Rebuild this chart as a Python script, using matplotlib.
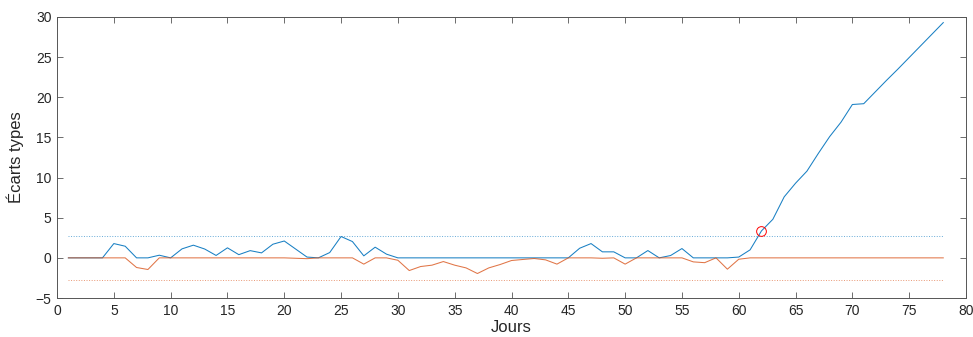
import matplotlib.pyplot as plt
import numpy as np

# jours et sommes cumulées (écarts types)
jours = np.arange(1, 79)
cusum_haut = [0, 0, 0, 0, 1.78, 1.45, 0, 0, 0.33, 0,
              1.12, 1.58, 1.1, 0.3, 1.25, 0.4, 0.9, 0.62, 1.7, 2.1,
              1.1, 0.1, 0, 0.66, 2.66, 2.03, 0.25, 1.33, 0.46, 0,
              0, 0, 0, 0, 0, 0, 0, 0, 0, 0,
              0, 0, 0, 0, 0, 1.2, 1.78, 0.75, 0.75, 0,
              0, 0.91, 0, 0.29, 1.16, 0, 0, 0, 0, 0.1,
              1.0, 3.36, 4.8, 7.6, 9.3, 10.8, 13.0, 15.1, 16.9, 19.1,
              19.2, 20.65, 22.1, 23.5, 24.95, 26.4, 27.85, 29.3]
cusum_bas = [0, 0, 0, 0, 0, 0, -1.2, -1.45, 0, 0,
             0, 0, 0, 0, 0, 0, 0, 0, 0, 0,
             -0.05, -0.1, 0, 0, 0, 0, -0.78, 0, 0, -0.3,
             -1.58, -1.08, -0.91, -0.46, -0.91, -1.25, -1.95, -1.25, -0.83, -0.33,
             -0.2, -0.08, -0.25, -0.78, 0, 0, 0, -0.05, 0, -0.78,
             0, 0, 0, 0, 0, -0.5, -0.6, 0, -1.41, -0.17,
             0, 0, 0, 0, 0, 0, 0, 0, 0, 0,
             0, 0, 0, 0, 0, 0, 0, 0]
seuil = 2.7
jour_alerte = 62
valeur_alerte = 3.36

bleu = '#0072BD'
orange = '#D95319'

plt.rcParams['font.family'] = ['Liberation Sans', 'DejaVu Sans']

fig = plt.figure(figsize=(9.73, 3.37), dpi=100)
ax = fig.add_axes([0.0586, 0.1157, 0.9342, 0.8339])

ax.plot(jours, cusum_haut, color=bleu, lw=0.75, alpha=0.9)
ax.plot(jours, cusum_bas, color=orange, lw=0.75, alpha=0.8)
ax.plot([jours[0], jours[-1]], [seuil, seuil], ':', color=bleu, lw=0.7, alpha=0.6)
ax.plot([jours[0], jours[-1]], [-seuil, -seuil], ':', color=orange, lw=0.7, alpha=0.6)
ax.plot(jour_alerte, valeur_alerte, 'o', mfc='none', mec='red', ms=7, mew=0.7)

ax.set_xlim(0, 80)
ax.set_ylim(-5, 30)
ax.set_xticks(np.arange(0, 81, 5))
ax.set_yticks(np.arange(-5, 31, 5))
ax.tick_params(direction='in', top=True, right=True, length=4, width=0.6,
               labelsize=10, colors='#262626', pad=4)
ax.tick_params(color='#555555')
for s in ax.spines.values():
    s.set_color('#555555')
    s.set_linewidth(0.7)

ax.set_xlabel('Jours', fontsize=12, color='#262626', labelpad=2)
ax.set_ylabel('Écarts types', fontsize=12, color='#262626', labelpad=8)

fig.savefig('out.png', dpi=100)
